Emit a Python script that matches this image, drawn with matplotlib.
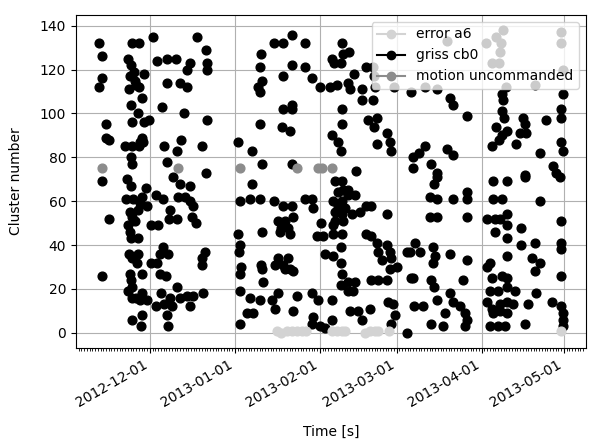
import matplotlib
matplotlib.use('Agg')
import matplotlib.pyplot as plt
import matplotlib.dates as mdates
from matplotlib.lines import Line2D
import numpy as np
import pandas as pd

# days are counted from 2012-12-01
t0 = pd.Timestamp('2012-12-01')

# griss cb0 events
griss_days = [
    -18.5, -17.6, -17.3, -18.5, -16, -16, -14.8, -6.7, -4, 1.2,
    -7.9, -7, -5.8, -7.3, -2.2, -5.5, -7.5, -3.9, -4.9, -2.7, -7, -4.3, -6.7, -2.2, -0.3,
    -3, -3.6, -2.4, -9.1, -6.7, -3.9, -7, -6.7,
    2.7, 6.1, 9.7, 14.8, 13.4, 6.3, 10.9, 13.6, 4.6, 12.4, 17.2, 20.3, 20.7, 20.7, 20.7,
    5, 11.3, 10, 18.9, 6.3, 20.3, 8.4, -8.2, -17.3, 32.3,
    51.9, 45.3, 48.6, 56.5, 40.5, 40.1, 51.9, 48.6, 56.5, 59.2, 41, 39.3, 40.1, 62, 65.6,
    68.1, 69.9, 66.3, 67.2, 69.7, 70.5, 72.6, 72.3, 72.9, 74.5, 77.2, 77.2, 81.4, 79,
    81.4, 81.7, 82, 89, 95.4,
    48.6, 51.9, 51.9, 40.1, 48.3, 51.1, 70.1, 70.1, 66.5, 68.7, 69.7, 79.4, 82.7, 81.8,
    86.3, 87.5, 88.1, 82.7, 37.3, 41, 51.9, 75, 96, 96,
    108.4, 122.5, 126.4, 128.8, 128.2, 127.6, 124.6, 127.4, 149.8, 149.8, 150.5, 130, 140.4,
    100.3, 104.8,
    109.4, 110.4, 115.5, 128.3, 128.8, 128.3, 129.1, 150.5, 149.8, 149.8, 135.9, 136.8, 137.1,
    134.9, 144.4, 126.4, 130.3, 128.3, 127.4, 124.6, 133.5, 149.8, 150.5, 142.2, 100.3, 98.2,
    108.4, 110.6, 102.7, 104.6, 136.8, 147.1, 148.1,
    -7, -1.5, -8.8, -6.1, -3, -1.2, -3.6, -7.3, -4.3, -6.7, -7.9, -5.5, -7.3, -7, -4.3, -14.8,
    2.4, 4.9, 10.9, 14.8, 10.3, 12.8, 14.6, 15.8, 7.3, 7, 10, 0.3, 3, 15.5, 16.8,
    4.9, 3.6, 6.7, 2.7, -7.5, -4.3, -6.7, -4.6, 0.3, 20.1, 18.9, 18.9,
    -17.3, -7.3, -7, -3, 3.6, 5.8, -7.9, -6.7, -4.9, -3, -6.7, -3.6, -1.2,
    3.9, 7.3, 10, 10.9, 13.4, 15.8, 19.2, 2.4, 5.1, 7.9, 6.1, 14.8, -6.7, -3, -3.4, 6.7,
    37.1, 32.8, 36.5, 40.1, 45.3, 48.6, 51.7, 52.3, 56.5, 59.2, 59.6, 46.8, 49.2, 48, 50.4,
    51.1, 47.4, 41, 32.2, 32.8, 32.5, 62.4,
    67.5, 69.9, 70.5, 72.3, 68.7, 72.3, 74.8, 66.8, 69.9, 68.7, 71.1, 67.5, 69.9, 73.6, 76.6,
    67.5, 70.5, 66.8, 79, 80.8, 86.3, 60.8, 63.2, 66.8, 69.9,
    79, 80.8, 82.7, 83.3, 86.3, 87.5, 84.5, 88.1, 87.5, 90,
    93.6, 63.8, 66.8, 69.7, 69.7, 46.8, 45.6, 48.6, 50.4, 51.1, 49.2, 52.3,
    40.7, 41, 33.2, 32.8, 41.3, 69.9, 69.7, 72.3, 74.8, 72.3, 74.1,
    80.8, 83.3, 86.3, 95.4, 32.8, 36.5, 40.1, 44.4, 46.8, 53.5, 59, 61.4, 66.3,
    35.3, 37.7, 32.8, 45.6, 52.3, 59.6, 59, 62, 63.8, 66.3, 72.9, 76, 80.2, 77.2,
    86.9, 88.7, 89.3, 88.1, 93.6,
    104.6, 103.6, 102.1, 104.6, 110.6, 115.5, 115.5, 102.1, 104.6, 115.5, 125, 130.1, 136.8,
    149.5, 125, 128.3, 142.2,
    122.8, 125.8, 127.6, 130.1, 125.8, 130.1, 130.1, 135.5, 135.5, 140.4, 149.8,
    96.6, 98.5, 94.8, 103.3, 103.9, 103.3, 109.6, 115.5, 124, 122.8, 130.1, 139.2, 142.2,
    140.4, 150.1, 150.1, 149.8, 96, 102.7, 103.6, 114.2,
    124.6, 128.3, 130.1, 124, 127, 130.1, 133.1, 122.8, 124.6, 127.6, 130.1, 132.5, 125.2,
    127.6, 130.1, 124, 127, 129.5, 136.8, 140.8, 138, 146.5, 150.1, 150.5, 150.5, 150.5,
    96.3, 99.7, 104.6, 107.6, 107, 110.6, 113.1, 114.9, 115.5, 114.9, 102.7, 109.4,
]
griss_cluster = [
    132, 126, 116, 112, 95, 89, 88, 132, 132, 135,
    125, 122, 119, 117, 118, 115, 111, 112, 113, 107, 104, 100, 96, 96, 97,
    89, 87, 87, 85, 85, 85, 80, 77,
    124, 125, 125, 123, 120, 114, 114, 112, 103, 100, 135, 129, 123, 120, 97,
    85, 88, 83, 85, 78, 73, 71, 70, 69, 87,
    136, 132, 132, 132, 127, 121, 122, 117, 121, 116, 115, 112, 110, 112, 112,
    113, 132, 125, 123, 123, 127, 128, 114, 111, 118, 111, 106, 106, 121,
    121, 117, 112, 112, 110,
    102, 104, 102, 95, 94, 92, 102, 95, 90, 87, 83, 97, 98, 94,
    91, 87, 83, 86, 83, 77, 77, 74, 80, 75,
    133, 132, 135, 138, 132, 128, 123, 123, 137, 132, 120, 112, 113,
    112, 111,
    107, 104, 99, 109, 106, 101, 98, 109, 102, 98, 98, 95, 91,
    91, 97, 94, 92, 90, 88, 85, 86, 87, 83, 82, 85, 82,
    84, 81, 77, 73, 72, 76, 73,
    67, 66, 61, 61, 62, 58, 59, 55, 56, 53, 49, 51, 46, 43, 43, 52,
    63, 61, 68, 67, 62, 62, 60, 58, 56, 52, 52, 49, 49, 53, 50,
    39, 36, 36, 32, 36, 36, 34, 32, 32, 37, 34, 31,
    26, 27, 24, 27, 27, 26, 19, 16, 16, 18, 21, 15, 15,
    18, 16, 21, 16, 17, 17, 18, 12, 13, 12, 8, 12, 6, 8, 3, 3,
    68, 60, 61, 61, 60, 58, 58, 53, 61, 61, 57, 51, 51, 48, 48,
    45, 46, 46, 45, 40, 37, 50,
    69, 69, 65, 65, 64, 63, 63, 60, 60, 58, 57, 55, 54, 54, 55,
    51, 51, 49, 58, 58, 54, 44, 44, 45, 45,
    45, 44, 41, 37, 40, 37, 33, 34, 29, 30,
    37, 36, 35, 32, 39, 34, 31, 31, 34, 29, 29, 28,
    31, 29, 30, 27, 23, 27, 22, 23, 23, 19, 19,
    24, 24, 24, 25, 19, 16, 15, 15, 18, 17, 18, 15, 15,
    9, 9, 4, 11, 10, 7, 4, 3, 2, 6, 10, 10, 11, 6,
    14, 13, 8, 4, 0,
    71, 68, 62, 61, 61, 64, 61, 53, 53, 53, 69, 69, 71,
    71, 61, 61, 60,
    52, 52, 52, 54, 46, 49, 43, 48, 40, 41, 51,
    41, 37, 37, 39, 35, 32, 36, 33, 32, 30, 35, 34, 32,
    28, 41, 38, 26, 25, 24, 21, 24,
    25, 26, 25, 19, 19, 21, 19, 14, 11, 13, 14, 13, 9,
    10, 9, 3, 3, 3, 4, 18, 13, 14, 12, 9, 6, 3,
    12, 12, 15, 9, 3, 14, 12, 9, 6, 3, 4, 18,
]

# error a6 events
error_days = [46.2, 48, 49.9, 51.7, 53.5, 55.3, 56.8, 66.3, 68.1, 69.9, 71.1,
              78.4, 80.2, 82.1, 83.3, 87.2, 149.8]
error_cluster = [1, 0, 1, 1, 1, 1, 1, 1, 1, 1, 1, 0, 1, 1, 1, 1, 1]

# motion uncommanded events
motion_days = [-17.6, 10.3, 33, 53.5, 61.4, 62.8, 66.3]
motion_cluster = [75, 75, 75, 75, 75, 75, 75]

names = ['error a6', 'griss cb0', 'motion uncommanded']
colors = ['#d3d3d3', 'black', '#8c8c8c']


def to_time(days):
    return t0 + pd.to_timedelta(np.array(days), unit='D')


fig = plt.figure(figsize=(5.89, 4.41), dpi=100)
ax = fig.add_subplot(111)

ax.plot(to_time(griss_days), griss_cluster, 'o', color=colors[1], ms=6.3, zorder=2)
ax.plot(to_time(error_days), error_cluster, 'o', color=colors[0], ms=6.3, zorder=3)
ax.plot(to_time(motion_days), motion_cluster, 'o', color=colors[2], ms=6.3, zorder=3)

handles = [Line2D([], [], color=c, marker='o') for c in colors]
ax.legend(handles, names, loc='upper right')

ax.xaxis.set_major_locator(mdates.MonthLocator())
ax.xaxis.set_major_formatter(mdates.DateFormatter('%Y-%m-%d'))
ax.xaxis.set_minor_locator(mdates.DayLocator())
ax.grid(True)
ax.set_xlabel('Time [s]', labelpad=11)
ax.set_ylabel('Cluster number', labelpad=12)
fig.autofmt_xdate()

fig.subplots_adjust(left=0.129, right=0.9944, top=0.966, bottom=0.211)
fig.savefig('out.png', dpi=100)
